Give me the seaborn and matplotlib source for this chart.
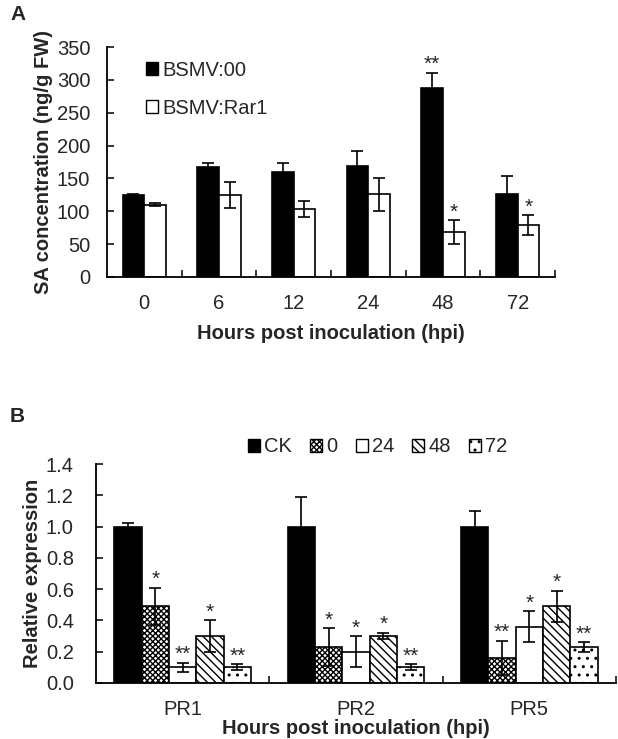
import pandas as pd
import numpy as np
import seaborn as sns
import matplotlib.pyplot as plt
from matplotlib.patches import Patch

# --- panel A data : SA concentration ---
hours = ['0', '6', '12', '24', '48', '72']
groups_a = ['BSMV:00', 'BSMV:Rar1']
sa_00 = [124, 168, 160, 169, 288, 127]
sa_00_err = [2, 6, 13, 23, 23, 26]
sa_rar1 = [110, 125, 103, 126, 68, 79]
sa_rar1_err = [2, 20, 12, 25, 18, 15]
stars_00 = ['', '', '', '', '**', '']
stars_rar1 = ['', '', '', '', '*', '*']

# --- panel B data : relative expression ---
genes = ['PR1', 'PR2', 'PR5']
times_b = ['CK', '0', '24', '48', '72']
expr_ck = [1.0, 1.0, 1.0]
expr_0 = [0.49, 0.23, 0.16]
expr_24 = [0.10, 0.20, 0.36]
expr_48 = [0.30, 0.30, 0.49]
expr_72 = [0.10, 0.10, 0.23]
err_ck = [0.02, 0.19, 0.10]
err_0 = [0.12, 0.12, 0.11]
err_24 = [0.03, 0.10, 0.10]
err_48 = [0.10, 0.02, 0.10]
err_72 = [0.02, 0.02, 0.03]
stars_ck = ['', '', '']
stars_0 = ['*', '*', '**']
stars_24 = ['**', '*', '*']
stars_48 = ['*', '*', '*']
stars_72 = ['**', '**', '**']

df_a = pd.DataFrame({
    'hpi': hours * 2,
    'group': [groups_a[0]] * 6 + [groups_a[1]] * 6,
    'value': sa_00 + sa_rar1,
})

vals_b = [expr_ck, expr_0, expr_24, expr_48, expr_72]
errs_b = [err_ck, err_0, err_24, err_48, err_72]
stars_b = [stars_ck, stars_0, stars_24, stars_48, stars_72]
df_b = pd.DataFrame({
    'gene': genes * len(times_b),
    'time': [t for t in times_b for _ in genes],
    'value': sum(vals_b, []),
})

sns.set_style('white')
plt.rcParams['font.family'] = ['Liberation Sans', 'DejaVu Sans']
plt.rcParams['hatch.linewidth'] = 1.0

FS = 14.5     # tick labels / legend
FL = 14.5     # axis titles
LW = 1.3

fig = plt.figure(figsize=(6.18, 7.39), dpi=100)
ax_a = fig.add_axes([0.1731, 0.6252, 0.7249, 0.3112])
ax_b = fig.add_axes([0.1553, 0.0758, 0.8415, 0.2963])


def add_err(ax, cont, vals, errs, stars, star_fs):
    xs = [b.get_x() + b.get_width() / 2 for b in cont]
    ax.errorbar(xs, vals, yerr=errs, fmt='none', ecolor='black',
                elinewidth=1.2, capsize=4, capthick=1.2, zorder=5)
    for x, v, e, s in zip(xs, vals, errs, stars):
        if s:
            ax.annotate(s, (x, v + e), xytext=(0, -1), textcoords='offset points',
                        ha='center', va='bottom', fontsize=star_fs)


def style_axis(ax, n):
    sns.despine(ax=ax)
    for sp in ['left', 'bottom']:
        ax.spines[sp].set_linewidth(LW)
        ax.spines[sp].set_color('black')
    ax.set_xlim(-0.5, n - 0.5)
    ax.set_xticks(np.arange(0.5, n, 1), minor=True)
    ax.tick_params(axis='x', which='major', length=0, pad=12, labelsize=FS)
    ax.tick_params(axis='x', which='minor', direction='in', length=5,
                   width=LW, bottom=True)
    ax.tick_params(axis='y', direction='in', length=5, width=LW, left=True,
                   labelsize=FS)


# ---------------- panel A ----------------
sns.barplot(data=df_a, x='hpi', y='value', hue='group', order=hours,
            hue_order=groups_a, palette=['black', 'white'], saturation=1,
            width=0.58, edgecolor='black', linewidth=1.2, errorbar=None,
            legend=False, ax=ax_a)
for cont, v, e, s in zip(ax_a.containers, [sa_00, sa_rar1],
                         [sa_00_err, sa_rar1_err], [stars_00, stars_rar1]):
    add_err(ax_a, cont, v, e, s, 15)

style_axis(ax_a, len(hours))
ax_a.set_ylim(0, 350)
ax_a.set_yticks(range(0, 351, 50))
ax_a.tick_params(axis='y', pad=12)
ax_a.set_xlabel('Hours post inoculation (hpi)', fontsize=FL, fontweight='bold',
                labelpad=8)
ax_a.set_ylabel('SA concentration (ng/g FW)', fontsize=FL, fontweight='bold',
                labelpad=3)

h_a = [Patch(facecolor=c, edgecolor='black', linewidth=1.0) for c in ['black', 'white']]
ax_a.legend(h_a, groups_a, loc='upper left', bbox_to_anchor=(0.087, 0.94),
            frameon=False, fontsize=FS, handlelength=0.6, handleheight=0.6,
            handletextpad=0.2, labelspacing=0.95, borderpad=0, borderaxespad=0)

# ---------------- panel B ----------------
hatches = ['', 'xxxxxx', '', '\\\\\\\\', '..']
colors_b = ['black', 'white', 'white', 'white', 'white']
sns.barplot(data=df_b, x='gene', y='value', hue='time', order=genes,
            hue_order=times_b, palette=colors_b, saturation=1, width=0.79,
            edgecolor='black', linewidth=1.2, errorbar=None, legend=False,
            ax=ax_b)
for cont, h in zip(ax_b.containers, hatches):
    for bar in cont:
        bar.set_hatch(h)
for cont, v, e, s in zip(ax_b.containers, vals_b, errs_b, stars_b):
    add_err(ax_b, cont, v, e, s, 15)

style_axis(ax_b, len(genes))
ax_b.set_ylim(0, 1.4)
ax_b.set_yticks(np.arange(0, 1.41, 0.2))
ax_b.set_yticklabels([f'{t:.1f}' for t in np.arange(0, 1.41, 0.2)])
ax_b.tick_params(axis='y', pad=16)
ax_b.set_xlabel('Hours post inoculation (hpi)', fontsize=FL, fontweight='bold',
                labelpad=0)
ax_b.set_ylabel('Relative expression', fontsize=FL, fontweight='bold',
                labelpad=3)

h_b = [Patch(facecolor=c, edgecolor='black', hatch=h, linewidth=1.0)
       for c, h in zip(colors_b, hatches)]
ax_b.legend(h_b, times_b, loc='center', bbox_to_anchor=(0.542, 1.078),
            ncol=5, frameon=False, fontsize=FS, handlelength=0.6,
            handleheight=0.6, handletextpad=0.2, columnspacing=0.9,
            borderpad=0, borderaxespad=0)

fig.text(10 / 618, 1 - 14 / 739, 'A', fontsize=15, fontweight='bold',
         ha='left', va='center')
fig.text(10 / 618, 1 - 417 / 739, 'B', fontsize=15, fontweight='bold',
         ha='left', va='center')

fig.savefig('out.png', dpi=100)
